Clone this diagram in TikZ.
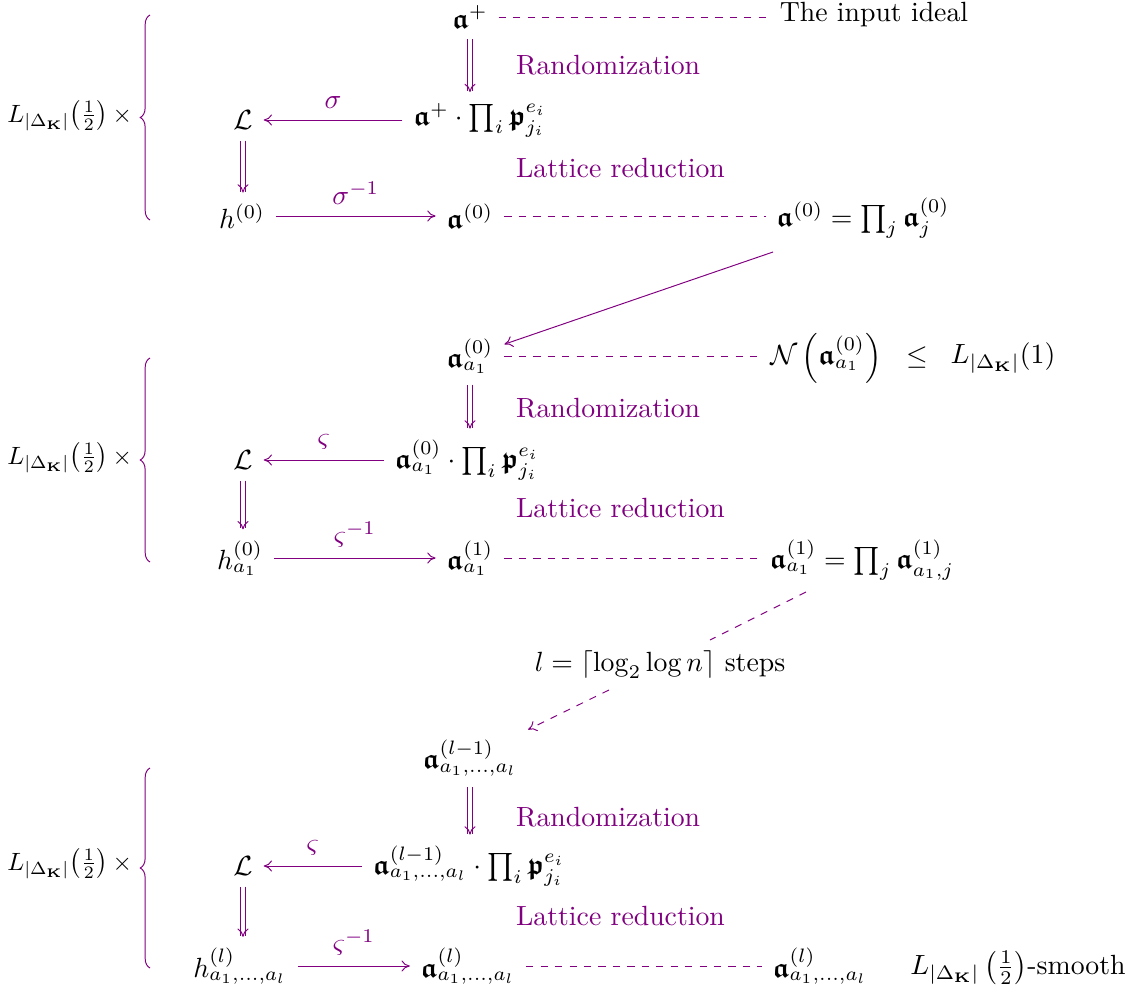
\documentclass[tikz,border=0pt]{standalone}
\usepackage{amsmath}
\usepackage{amssymb}
\usepackage{graphicx}
\usetikzlibrary{arrows.meta,decorations.pathreplacing}
\definecolor{vio}{RGB}{128,0,128}
\newcommand{\fa}{\boldsymbol{\mathfrak{a}}}
\newcommand{\fp}{\boldsymbol{\mathfrak{p}}}
\newcommand{\LD}{L_{|\Delta_{\mathbf{K}}|}}
\newcommand{\factor}{\scalebox{0.9}{$\LD\bigl(\tfrac12\bigr)\mkern3mu\times$}}
\begin{document}
\begin{tikzpicture}[x=0.36pt,y=-0.36pt,
  every node/.style={inner sep=1.5pt,outer sep=2.5pt},
  lab/.style={text=vio},
  fac/.style={anchor=east,inner sep=0pt,outer sep=0pt},
  arrlab/.style={text=vio,above},
  arr/.style={draw=vio,line width=0.35pt,-{To[length=3pt,width=4pt]}},
  dbl/.style={draw=vio,line width=0.35pt,double,double distance=1.3pt,-{To[length=3pt,width=4pt]}},
  dsh/.style={draw=vio,line width=0.35pt,dash pattern=on 2.6pt off 2.6pt},
  brc/.style={draw=vio,line width=0.35pt,decorate,decoration={brace,amplitude=3.5pt}}]
\useasboundingbox (0,0) rectangle (1131,996);
% ---------- group 1
\node[fac] (k1) at (132,116) {\factor};
\draw[brc] (150,220) -- (150,15);
\node (ap) at (470,17) {$\fa^{+}$};
\node (inp) at (874,15) {The input ideal};
\node[lab,anchor=west] (r1) at (505,65) {Randomization};
\node (p1) at (480,120) {$\fa^{+}\cdot\prod_i\fp_{j_i}^{e_i}$};
\node (L1) at (243,120) {$\mathcal{L}$};
\node[lab,anchor=west] (lr1) at (505,168) {Lattice reduction};
\node (h0) at (242,216) {$h^{(0)}$};
\node (a0) at (470,216) {$\fa^{(0)}$};
\node (e0) at (863,218) {$\fa^{(0)}=\prod_j\fa_j^{(0)}$};
\draw[dsh] (ap.east) -- (ap.east -| inp.west);
\draw[dbl] (ap.south) -- (ap.south |- p1.north);
\draw[arr] (p1.west) -- node[arrlab]{$\sigma$} (p1.west -| L1.east);
\draw[dbl] (L1.south) -- (L1.south |- h0.north);
\draw[arr] (h0.east) -- node[arrlab]{$\sigma^{-1}$} (h0.east -| a0.west);
\draw[dsh] (a0.east) -- (a0.east -| e0.west);
% ---------- group 2
\coordinate (d1) at (773,252);
\node[fac] (k2) at (132,458) {\factor};
\draw[brc] (150,562) -- (150,358);
\node (b0) at (470,356) {$\fa_{a_1}^{(0)}$};
\node (nb) at (826,358) {$\mathcal{N}\left(\fa_{a_1}^{(0)}\right)$};
\node (le) at (917,358) {$\leq$};
\node (l1) at (1003,358) {$\LD(1)$};
\node[lab,anchor=west] (r2) at (505,408) {Randomization};
\node (p2) at (467,460) {$\fa_{a_1}^{(0)}\cdot\prod_i\fp_{j_i}^{e_i}$};
\node (L2) at (243,460) {$\mathcal{L}$};
\node[lab,anchor=west] (lr2) at (505,508) {Lattice reduction};
\node (h1) at (240,558) {$h_{a_1}^{(0)}$};
\node (b1) at (470,558) {$\fa_{a_1}^{(1)}$};
\node (e1) at (862,560) {$\fa_{a_1}^{(1)}=\prod_j\fa_{a_1,j}^{(1)}$};
\draw[arr] (d1) -- (b0);
\draw[dsh] (b0.east) -- (b0.east -| nb.west);
\draw[dbl] (b0.south -| 470,0) -- (470,0 |- p2.north);
\draw[arr] (p2.west) -- node[arrlab]{$\varsigma$} (p2.west -| L2.east);
\draw[dbl] (L2.south) -- (L2.south |- h1.north);
\draw[arr] (h1.east) -- node[arrlab]{$\varsigma^{-1}$} (h1.east -| b1.west);
\draw[dsh] (b1.east) -- (b1.east -| e1.west);
% ---------- steps
\coordinate (s1) at (806,592);
\node (st) at (660,665) {$l=\left\lceil\log_2\log n\right\rceil$ steps};
\node (c0) at (470,758) {$\fa_{a_1,\dots,a_l}^{(l-1)}$};
\draw[dsh] (s1) -- (st);
\draw[dsh,-{To[length=3pt,width=4pt]}] (st) -- (c0);
% ---------- group 3
\node[fac] (k3) at (132,864) {\factor};
\draw[brc] (150,968) -- (150,768);
\node[lab,anchor=west] (r3) at (505,817) {Randomization};
\node (p3) at (469,866) {$\fa_{a_1,\dots,a_l}^{(l-1)}\cdot\prod_i\fp_{j_i}^{e_i}$};
\node (L3) at (243,866) {$\mathcal{L}$};
\node[lab,anchor=west] (lr3) at (505,916) {Lattice reduction};
\node (h3) at (240,966) {$h_{a_1,\dots,a_l}^{(l)}$};
\node (c1) at (468,966) {$\fa_{a_1,\dots,a_l}^{(l)}$};
\node (c2) at (820,966) {$\fa_{a_1,\dots,a_l}^{(l)}$};
\node (sm) at (1018,968) {$\LD\left(\tfrac12\right)$-smooth};
\draw[dbl] (c0.south -| 470,0) -- (470,0 |- p3.north);
\draw[arr] (p3.west) -- node[arrlab]{$\varsigma$} (p3.west -| L3.east);
\draw[dbl] (L3.south) -- (L3.south |- h3.north);
\draw[arr] (h3.east) -- node[arrlab]{$\varsigma^{-1}$} (h3.east -| c1.west);
\draw[dsh] (c1.east) -- (c1.east -| c2.west);
\end{tikzpicture}
\end{document}
